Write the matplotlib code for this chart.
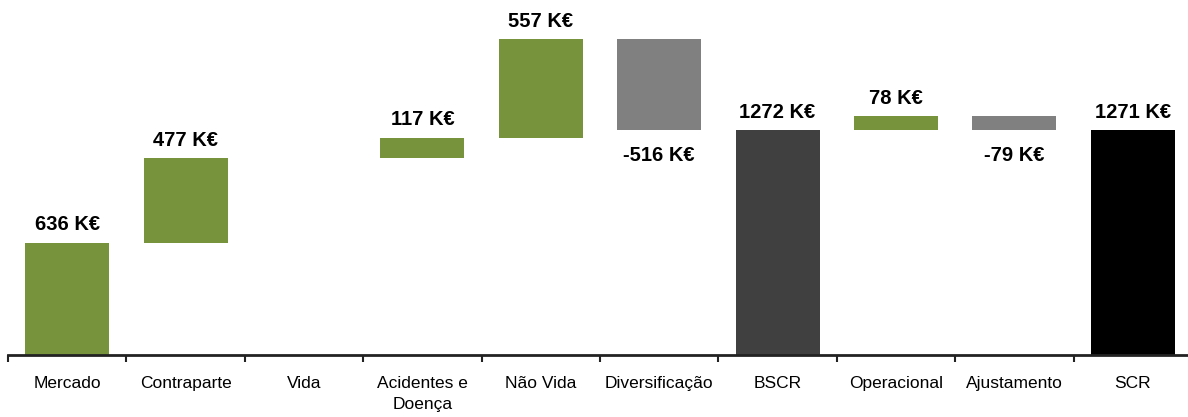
import matplotlib.pyplot as plt
import numpy as np

plt.rcParams['font.family'] = ['Liberation Sans Narrow', 'Liberation Sans', 'DejaVu Sans']

categories = ['Mercado', 'Contraparte', 'Vida', 'Acidentes e\nDoença', 'Não Vida',
              'Diversificação', 'BSCR', 'Operacional', 'Ajustamento', 'SCR']
values = [636, 477, 0, 117, 557, -516, 1272, 78, -79, 1271]
is_total = [False, False, False, False, False, False, True, False, False, True]

green = '#77933C'
grey = '#808080'

# work out bar bottoms / heights for the waterfall
bottoms = []
heights = []
colors = []
running = 0
for v, tot in zip(values, is_total):
    if tot:
        bottoms.append(0)
        heights.append(v)
        running = v
        colors.append('#404040' if len(bottoms) < len(values) else '#000000')
    else:
        if v >= 0:
            bottoms.append(running)
            heights.append(v)
            colors.append(green)
        else:
            bottoms.append(running + v)
            heights.append(-v)
            colors.append(grey)
        running += v

fig = plt.figure(figsize=(11.88, 4.17), dpi=100)
ax = fig.add_axes([8 / 1188, 62 / 417, 1184 / 1188, 355 / 417])

x = np.arange(len(categories))
ax.bar(x, heights, bottom=bottoms, width=0.71, color=colors)

for xi, v, b, h, tot in zip(x, values, bottoms, heights, is_total):
    if v == 0:
        continue
    if v > 0:
        ax.annotate(f'{v} K€', (xi, b + h), xytext=(0, 6), textcoords='offset points',
                    ha='center', va='bottom', fontsize=14.5, fontweight='bold')
    else:
        ax.annotate(f'{v} K€', (xi, b), xytext=(0, -11), textcoords='offset points',
                    ha='center', va='top', fontsize=14.5, fontweight='bold')

ax.set_xlim(-0.5, len(categories) - 0.5)
ax.set_ylim(0, 2008)
ax.set_xticks(x)
ax.set_xticklabels(categories, fontsize=12.5, linespacing=1.5)
ax.set_xticks(np.arange(len(categories) + 1) - 0.5, minor=True)
ax.tick_params(axis='x', which='major', length=0, pad=15)
ax.tick_params(axis='x', which='minor', length=5, width=1.5, color='#222222')
ax.set_yticks([])
for s in ['top', 'right', 'left']:
    ax.spines[s].set_visible(False)
ax.spines['bottom'].set_linewidth(2)
ax.spines['bottom'].set_color('#222222')

plt.savefig('out.png', dpi=100)
